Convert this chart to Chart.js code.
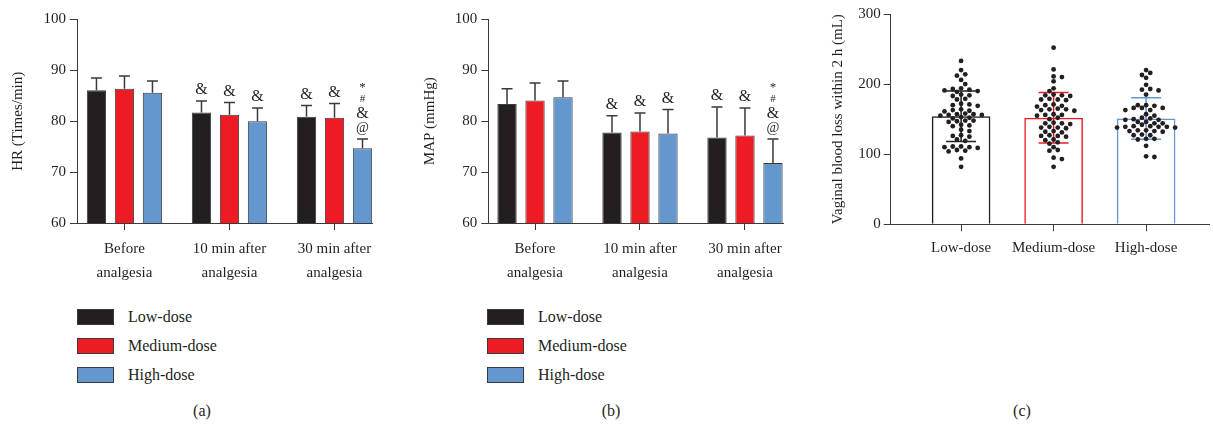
<!DOCTYPE html>
<html><head><meta charset="utf-8">
<script src="https://cdn.jsdelivr.net/npm/chart.js@4.4.1/dist/chart.umd.min.js"></script>
<style>
html,body{margin:0;padding:0;background:#fff;}
#wrap{position:relative;width:1213px;height:425px;overflow:hidden;background:#fff;font-family:"Liberation Serif","DejaVu Serif",serif;color:#231f20;}
canvas{position:absolute;top:0;}
.leg{position:absolute;font-size:16px;}
.item{position:absolute;left:0;height:16px;white-space:nowrap;}
.box{position:absolute;left:0;top:0;width:37px;height:16px;border:1px solid #3a3a3a;box-sizing:border-box;}
.lab{position:absolute;left:51px;top:-1px;line-height:18px;}
.panel{position:absolute;font-size:16px;transform:translate(-50%,-50%);}
</style></head>
<body><div id="wrap">
<canvas id="cA" width="400" height="290" style="left:0px"></canvas>
<canvas id="cB" width="410" height="290" style="left:400px"></canvas>
<canvas id="cC" width="393" height="265" style="left:820px"></canvas>
<div class="leg" id="legA" style="left:77px;top:309px"></div>
<div class="leg" id="legB" style="left:487px;top:309px"></div>
<div class="panel" style="left:202px;top:411px">(a)</div>
<div class="panel" style="left:611px;top:411px">(b)</div>
<div class="panel" style="left:1022px;top:411px">(c)</div>
</div>
<script>
// ---------- DATA ----------
const timeLabels = [["Before", "analgesia"], ["10 min after", "analgesia"], ["30 min after", "analgesia"]];
const groupNames = ["Low-dose", "Medium-dose", "High-dose"];

const hrTicks = [60, 70, 80, 90, 100];
const hrLow = [86.1, 81.7, 80.9];
const hrLowSd = [2.4, 2.3, 2.2];
const hrMed = [86.4, 81.3, 80.7];
const hrMedSd = [2.5, 2.4, 2.8];
const hrHigh = [85.6, 80.0, 74.7];
const hrHighSd = [2.3, 2.6, 1.8];

const mapTicks = [60, 70, 80, 90, 100];
const mapLow = [83.4, 77.8, 76.8];
const mapLowSd = [3.0, 3.3, 6.0];
const mapMed = [84.1, 78.0, 77.2];
const mapMedSd = [3.4, 3.6, 5.4];
const mapHigh = [84.7, 77.6, 71.8];
const mapHighSd = [3.2, 4.7, 4.7];

// significance marks, listed bottom to top
const marksLow = [[], ["&"], ["&"]];
const marksMed = [[], ["&"], ["&"]];
const marksHigh = [[], ["&"], ["@", "&", "#", "*"]];

const bloodTicks = [0, 100, 200, 300];
const bloodMean = [154, 152, 151];
const bloodSd = [36, 36, 29.5];
const bloodLow = [233, 220, 214, 212, 206, 200, 194, 193, 192, 191, 190, 189,
  185, 184, 183, 179, 178, 172, 171, 170, 169, 164, 163, 162, 161, 158, 157, 157, 156, 156, 155,
  153, 152, 151, 148, 148, 147, 146, 142, 141, 140, 135, 133, 127, 126, 125, 121, 119,
  111, 111, 110, 110, 109, 106, 105, 104, 94, 82];
const bloodMed = [252, 221, 211, 210, 204, 194, 190, 185, 184, 184, 183, 179, 178, 178, 177,
  171, 170, 169, 168, 165, 164, 164, 163, 162, 157, 156, 156, 155, 152, 150,
  145, 144, 144, 143, 139, 138, 138, 137, 133, 132, 131, 127, 126, 126, 125,
  121, 120, 117, 115, 110, 106, 105, 95, 93, 82];
const bloodHigh = [220, 216, 213, 209, 199, 193, 192, 191, 185,
  170, 170, 169, 166, 166, 166, 163, 163, 157, 155, 152, 151, 150, 149, 149,
  146, 146, 144, 144, 142, 140, 140, 139, 139, 139, 138, 138, 134, 134, 133, 133, 132,
  128, 127, 127, 122, 122, 121, 112, 97, 96];

// ---------- STYLE ----------
const FONT = '"Liberation Serif","DejaVu Serif",serif';
const INK = '#231f20';
const AX = '#3a3a3a';
const colBlack = '#231f20', colRed = '#ed1c24', colBlue = '#6597cf';
const markSize = {'&': 16, '@': 14, '#': 11, '*': 13};

Chart.defaults.font.family = FONT;
Chart.defaults.color = INK;
Chart.defaults.animation = false;

const errPlugin = {
  id: 'errbars',
  afterDatasetDraw(chart, args) {
    const ds = chart.data.datasets[args.index];
    if (!ds.errors) return;
    const y = chart.scales.y, ctx = chart.ctx;
    ctx.save();
    ctx.lineWidth = ds.errWidth;
    args.meta.data.forEach((el, j) => {
      const v = ds.data[j].y, e = ds.errors[j];
      const top = y.getPixelForValue(v + e);
      const bot = ds.errBoth ? y.getPixelForValue(v - e) : el.y;
      const hw = ds.capHalf;
      ctx.strokeStyle = Array.isArray(ds.errColor) ? ds.errColor[j] : ds.errColor;
      ctx.beginPath();
      ctx.moveTo(el.x, bot); ctx.lineTo(el.x, top);
      ctx.moveTo(el.x - hw, top); ctx.lineTo(el.x + hw, top);
      if (ds.errBoth) { ctx.moveTo(el.x - hw, bot); ctx.lineTo(el.x + hw, bot); }
      ctx.stroke();
    });
    ctx.restore();
  },
  afterDatasetsDraw(chart) {
    const y = chart.scales.y, ctx = chart.ctx;
    ctx.save();
    ctx.fillStyle = INK; ctx.textAlign = 'center'; ctx.textBaseline = 'middle';
    chart.data.datasets.forEach((ds, i) => {
      if (!ds.marks) return;
      const meta = chart.getDatasetMeta(i);
      meta.data.forEach((el, j) => {
        const list = ds.marks[j];
        if (!list.length) return;
        let cy = y.getPixelForValue(ds.data[j].y + ds.errors[j]) - 11;
        list.forEach(s => {
          ctx.font = markSize[s] + 'px ' + FONT;
          ctx.fillText(s, el.x, s === '*' ? cy + 3 : cy);
          cy -= 14.5;
        });
      });
    });
    ctx.restore();
  }
};

function toXY(arr) { return arr.map((v, i) => ({x: i, y: v})); }

function axisCommon(ticksArr, width) {
  return {
    type: 'linear',
    min: ticksArr[0], max: ticksArr[ticksArr.length - 1],
    afterBuildTicks: s => { s.ticks = ticksArr.map(v => ({value: v})); },
    afterFit: s => { s.width = width; },
    grid: {display: true, drawOnChartArea: false, drawTicks: true, tickLength: 7, color: AX, lineWidth: 1},
    border: {display: true, color: AX, width: 1},
    ticks: {font: {size: 15}, color: INK, padding: 4}
  };
}

function groupedChart(id, series, sds, marks, yTicks, title, g) {
  const names = groupNames, cols = [colBlack, colRed, colBlue];
  const yAx = axisCommon(yTicks, g.yWidth);
  yAx.title = {display: true, text: title, font: {size: 15}, color: INK, padding: {top: g.titlePad, bottom: 0}};
  return new Chart(document.getElementById(id), {
    type: 'bar',
    data: {
      datasets: series.map((s, i) => ({
        label: names[i], data: toXY(s), backgroundColor: cols[i],
        borderColor: AX, borderWidth: 1, borderSkipped: false,
        errors: sds[i], errColor: AX, errWidth: 1.5, capHalf: 5.5, marks: marks[i]
      }))
    },
    options: {
      responsive: false, devicePixelRatio: 1,
      layout: {padding: {left: 0, top: 19.5, right: g.padRight, bottom: 0}},
      categoryPercentage: 0.8, barPercentage: 0.69,
      plugins: {legend: {display: false}, tooltip: {enabled: false}},
      scales: {
        x: {
          type: 'linear', min: g.xMin, max: g.xMax, offset: false,
          afterBuildTicks: s => { s.ticks = timeLabels.map((_, i) => ({value: i})); },
          afterFit: s => { s.height = 67; },
          grid: {display: true, offset: false, drawOnChartArea: false, drawTicks: true, tickLength: 7, color: AX},
          border: {display: true, color: AX, width: 1},
          ticks: {font: {size: 15, lineHeight: 1.6}, color: INK, padding: 7, maxRotation: 0,
            callback: v => timeLabels[v]}
        },
        y: yAx
      }
    },
    plugins: [errPlugin]
  });
}

groupedChart('cA', [hrLow, hrMed, hrHigh], [hrLowSd, hrMedSd, hrHighSd], [marksLow, marksMed, marksHigh],
  hrTicks, 'HR (Times/min)', {yWidth: 77, titlePad: 9, padRight: 28, xMin: -0.452, xMax: 2.357});
groupedChart('cB', [mapLow, mapMed, mapHigh], [mapLowSd, mapMedSd, mapHighSd], [marksLow, marksMed, marksHigh],
  mapTicks, 'MAP (mmHg)', {yWidth: 88.3, titlePad: 21, padRight: 26.7, xMin: -0.445, xMax: 2.365});

// ---------- Panel C ----------
const bloodGroups = [bloodLow, bloodMed, bloodHigh];
const yC = axisCommon(bloodTicks, 70.7);
yC.ticks.padding = 3;
yC.title = {display: true, text: 'Vaginal blood loss within 2 h (mL)', font: {size: 15}, color: INK, padding: {top: 9, bottom: 0}};
const chartC = new Chart(document.getElementById('cC'), {
  type: 'bar',
  data: {
    datasets: [
      ...bloodGroups.map((vals, g) => ({
        type: 'scatter', order: 0, data: vals.map(v => ({x: g, y: v})),
        pointRadius: 2.4, pointBackgroundColor: INK, pointBorderWidth: 0
      })),
      {
        type: 'bar', order: 1, data: toXY(bloodMean),
        backgroundColor: 'rgba(255,255,255,0)', borderColor: [colBlack, colRed, colBlue],
        borderWidth: 1.5, borderSkipped: 'start',
        categoryPercentage: 1, barPercentage: 0.634,
        errors: bloodSd, errBoth: true, errColor: [colBlack, colRed, colBlue], errWidth: 1.5, capHalf: 15
      }
    ]
  },
  options: {
    responsive: false, devicePixelRatio: 1,
    layout: {padding: {left: 0, top: 14, right: 0, bottom: 0}},
    plugins: {legend: {display: false}, tooltip: {enabled: false}},
    scales: {
      x: {
        type: 'linear', min: -0.761, max: 2.68, offset: false,
        afterBuildTicks: s => { s.ticks = groupNames.map((_, i) => ({value: i})); },
        afterFit: s => { s.height = 40.7; },
        grid: {display: true, offset: false, drawOnChartArea: false, drawTicks: true, tickLength: 7, color: AX},
        border: {display: true, color: AX, width: 1},
        ticks: {font: {size: 15}, color: INK, padding: 8, maxRotation: 0, callback: v => groupNames[v]}
      },
      y: yC
    }
  },
  plugins: [errPlugin]
});

// beeswarm layout using the chart's own scales
(function swarm(chart) {
  const xs = chart.scales.x, ys = chart.scales.y;
  const d = 4.7, step = 4.15;
  bloodGroups.forEach((vals, g) => {
    const cx = xs.getPixelForValue(g);
    const placed = [], pts = [];
    let flip = 1;
    vals.slice().sort((a, b) => b - a).forEach(v => {
      const py = ys.getPixelForValue(v);
      let best = 0;
      for (let k = 0; k < 40; k++) {
        const cands = k === 0 ? [0] : [flip * k * step, -flip * k * step];
        const ok = cands.find(o => placed.every(p => (p.x - o) ** 2 + (p.y - py) ** 2 >= d * d));
        if (ok !== undefined) { best = ok; if (k > 0) flip = -flip; break; }
      }
      placed.push({x: best, y: py});
      pts.push({x: xs.getValueForPixel(cx + best), y: v});
    });
    chart.data.datasets[g].data = pts;
  });
  chart.update('none');
})(chartC);

// ---------- HTML legends ----------
function legend(id) {
  const el = document.getElementById(id);
  [colBlack, colRed, colBlue].forEach((c, i) => {
    const it = document.createElement('div');
    it.className = 'item'; it.style.top = (i * 29) + 'px';
    it.innerHTML = '<div class="box" style="background:' + c + '"></div><div class="lab">' + groupNames[i] + '</div>';
    el.appendChild(it);
  });
}
legend('legA'); legend('legB');
</script>
</body></html>
